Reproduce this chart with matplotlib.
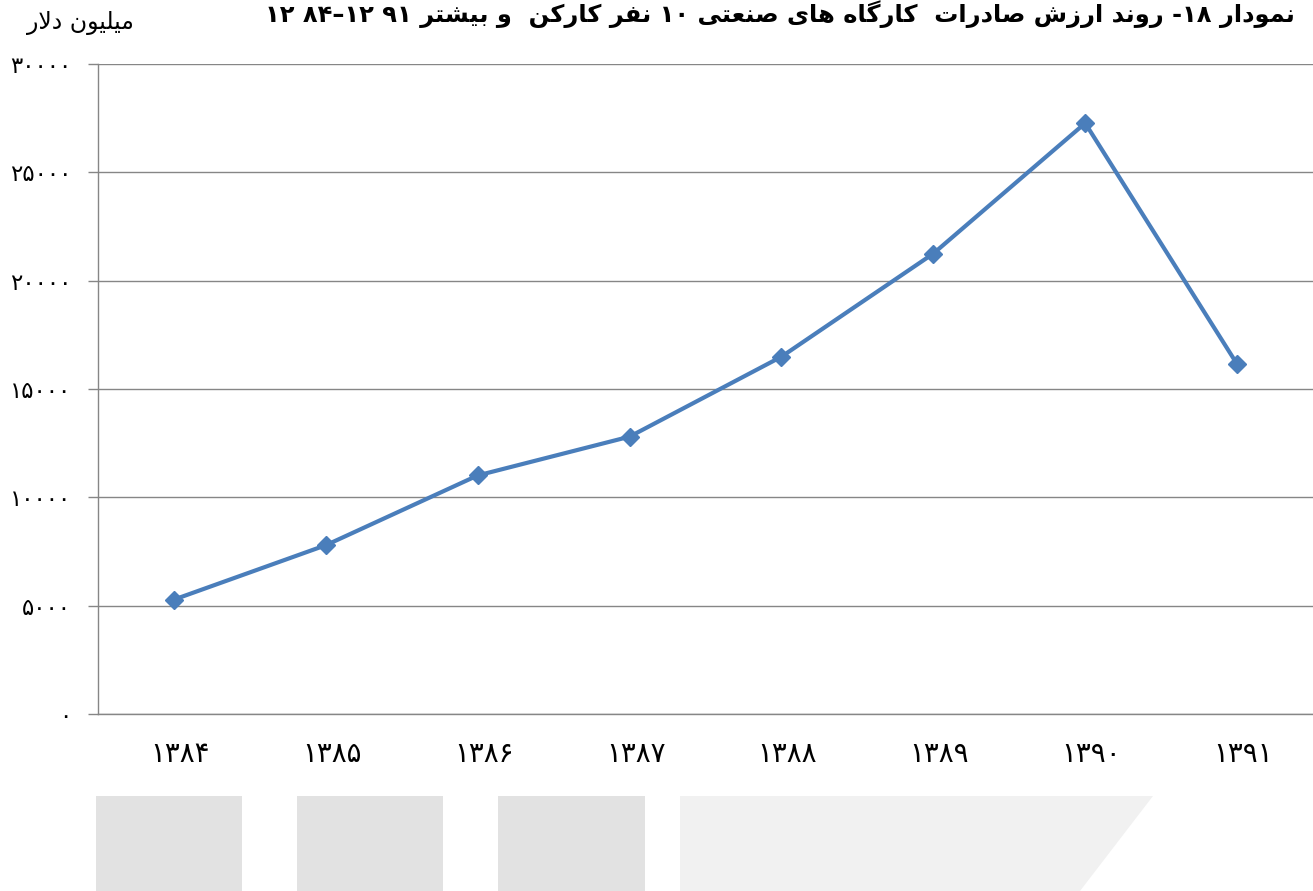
import re
import matplotlib
matplotlib.use('Agg')
import matplotlib.pyplot as plt
import matplotlib.transforms as mtransforms
from matplotlib.patches import Rectangle, Polygon

# ---------------- data ----------------
years = ['۱۳۸۴', '۱۳۸۵', '۱۳۸۶', '۱۳۸۷', '۱۳۸۸', '۱۳۸۹', '۱۳۹۰', '۱۳۹۱']
export_values = [5280, 7790, 11010, 12800, 16490, 21250, 27270, 16150]
ytick_values = [0, 5000, 10000, 15000, 20000, 25000, 30000]
ytick_labels = ['۰', '۵۰۰۰', '۱۰۰۰۰', '۱۵۰۰۰', '۲۰۰۰۰', '۲۵۰۰۰', '۳۰۰۰۰']
title_text = 'نمودار ۱۸- روند ارزش صادرات  کارگاه های صنعتی ۱۰ نفر کارکن  و بیشتر ۹۱ ۸۴–۱۲ ۱۲'
unit_text = 'میلیون دلار'

# ---------------- simple Persian shaping + RTL ordering ----------------
FORMS = {
    'ا': ('\uFE8D', '\uFE8E', None, None),
    'ب': ('\uFE8F', '\uFE90', '\uFE91', '\uFE92'),
    'ت': ('\uFE95', '\uFE96', '\uFE97', '\uFE98'),
    'د': ('\uFEA9', '\uFEAA', None, None),
    'ر': ('\uFEAD', '\uFEAE', None, None),
    'ز': ('\uFEAF', '\uFEB0', None, None),
    'ژ': ('\uFB8A', '\uFB8B', None, None),
    'ش': ('\uFEB5', '\uFEB6', '\uFEB7', '\uFEB8'),
    'ص': ('\uFEB9', '\uFEBA', '\uFEBB', '\uFEBC'),
    'ع': ('\uFEC9', '\uFECA', '\uFECB', '\uFECC'),
    'ف': ('\uFED1', '\uFED2', '\uFED3', '\uFED4'),
    'ل': ('\uFEDD', '\uFEDE', '\uFEDF', '\uFEE0'),
    'م': ('\uFEE1', '\uFEE2', '\uFEE3', '\uFEE4'),
    'ن': ('\uFEE5', '\uFEE6', '\uFEE7', '\uFEE8'),
    'ه': ('\uFEE9', '\uFEEA', '\uFEEB', '\uFEEC'),
    'و': ('\uFEED', '\uFEEE', None, None),
    'ک': ('\uFB8E', '\uFB8F', '\uFB90', '\uFB91'),
    'گ': ('\uFB92', '\uFB93', '\uFB94', '\uFB95'),
    'ی': ('\uFBFC', '\uFBFD', '\uFBFE', '\uFBFF'),
    'لا': ('\uFEFB', '\uFEFC', None, None),
}


def shape_word(w):
    units = []
    i = 0
    while i < len(w):
        if w[i] == 'ل' and i + 1 < len(w) and w[i + 1] == 'ا':
            units.append('لا')
            i += 2
        else:
            units.append(w[i])
            i += 1
    out = []
    for k, u in enumerate(units):
        f = FORMS.get(u)
        if f is None:
            out.append(u)
            continue
        prev = units[k - 1] if k > 0 else None
        nxt = units[k + 1] if k + 1 < len(units) else None
        jp = prev in FORMS and FORMS[prev][2] is not None
        jn = f[2] is not None and nxt in FORMS
        if jp and jn:
            g = f[3]
        elif jp:
            g = f[1]
        elif jn:
            g = f[2]
        else:
            g = f[0]
        out.append(g)
    return ''.join(out)


DIG = '۰-۹0-9'


def rtl(text):
    vis = []
    for w in text.split(' '):
        runs = re.findall('[%s]+(?:[-–][%s]+)*|[^%s]+' % (DIG, DIG, DIG), w)
        parts = []
        for r in runs:
            if re.match('[%s]' % DIG, r):
                parts.append(r)
            else:
                parts.append(shape_word(r)[::-1])
        vis.append(''.join(reversed(parts)))
    return ' '.join(reversed(vis))


# ---------------- figure ----------------
W, H = 1313, 891
plt.rcParams['font.family'] = ['DejaVu Sans']
fig = plt.figure(figsize=(W / 100, H / 100), dpi=100)
fig.patch.set_facecolor('white')

# decorative grey blocks at the bottom
for x0, x1 in [(96, 242), (297, 443), (498, 645)]:
    fig.patches.append(Rectangle((x0 / W, 0), (x1 - x0) / W, (891 - 796) / H,
                                 transform=fig.transFigure, facecolor='#E2E2E2',
                                 edgecolor='none', zorder=0))
fig.patches.append(Polygon([(680 / W, (891 - 796) / H), (1153 / W, (891 - 796) / H),
                            (1080 / W, 0), (680 / W, 0)], closed=True,
                           transform=fig.transFigure, facecolor='#F1F1F1',
                           edgecolor='none', zorder=0))

ax = fig.add_axes([98 / W, (891 - 714) / H, (1313 - 98) / W, (714 - 64) / H])
ax.set_facecolor('none')
x = list(range(len(years)))
ax.plot(x, export_values, color='#4A7EBB', lw=3.0, marker='D', ms=9,
        markeredgecolor='#4A7EBB', zorder=3, clip_on=False)

ax.set_xlim(-0.5, len(years) - 0.5)
ax.set_ylim(0, 30000)
ax.set_yticks(ytick_values)
ax.set_yticklabels(ytick_labels, fontsize=16.5)
ax.set_xticks(x)
ax.set_xticklabels(years, fontsize=20)

ax.yaxis.grid(True, color='#868686', lw=1.0)
ax.set_axisbelow(True)
for s in ['top', 'right']:
    ax.spines[s].set_visible(False)
for s in ['left', 'bottom']:
    ax.spines[s].set_color('#868686')
    ax.spines[s].set_linewidth(1.0)
ax.tick_params(axis='y', length=7.2, width=1.0, color='#868686', pad=12, labelcolor='black')
ax.tick_params(axis='x', length=0, pad=19, labelcolor='black')
offset = mtransforms.ScaledTranslation(6 / 100, 0, fig.dpi_scale_trans)
for lab in ax.get_xticklabels():
    lab.set_transform(lab.get_transform() + offset)

# title and unit label
renderer = fig.canvas.get_renderer()
t = fig.text(780 / W, 1 - 22 / H, rtl(title_text), ha='center', va='baseline',
             fontsize=20, fontweight='bold', color='black')
wpx = t.get_window_extent(renderer).width
t.set_fontsize(20 * 1030 / wpx)

u = fig.text(80 / W, 1 - 29 / H, rtl(unit_text), ha='center', va='baseline',
             fontsize=14, color='black')
wpx = u.get_window_extent(renderer).width
u.set_fontsize(14 * 108 / wpx)

fig.savefig('out.png', dpi=100, facecolor='white')
